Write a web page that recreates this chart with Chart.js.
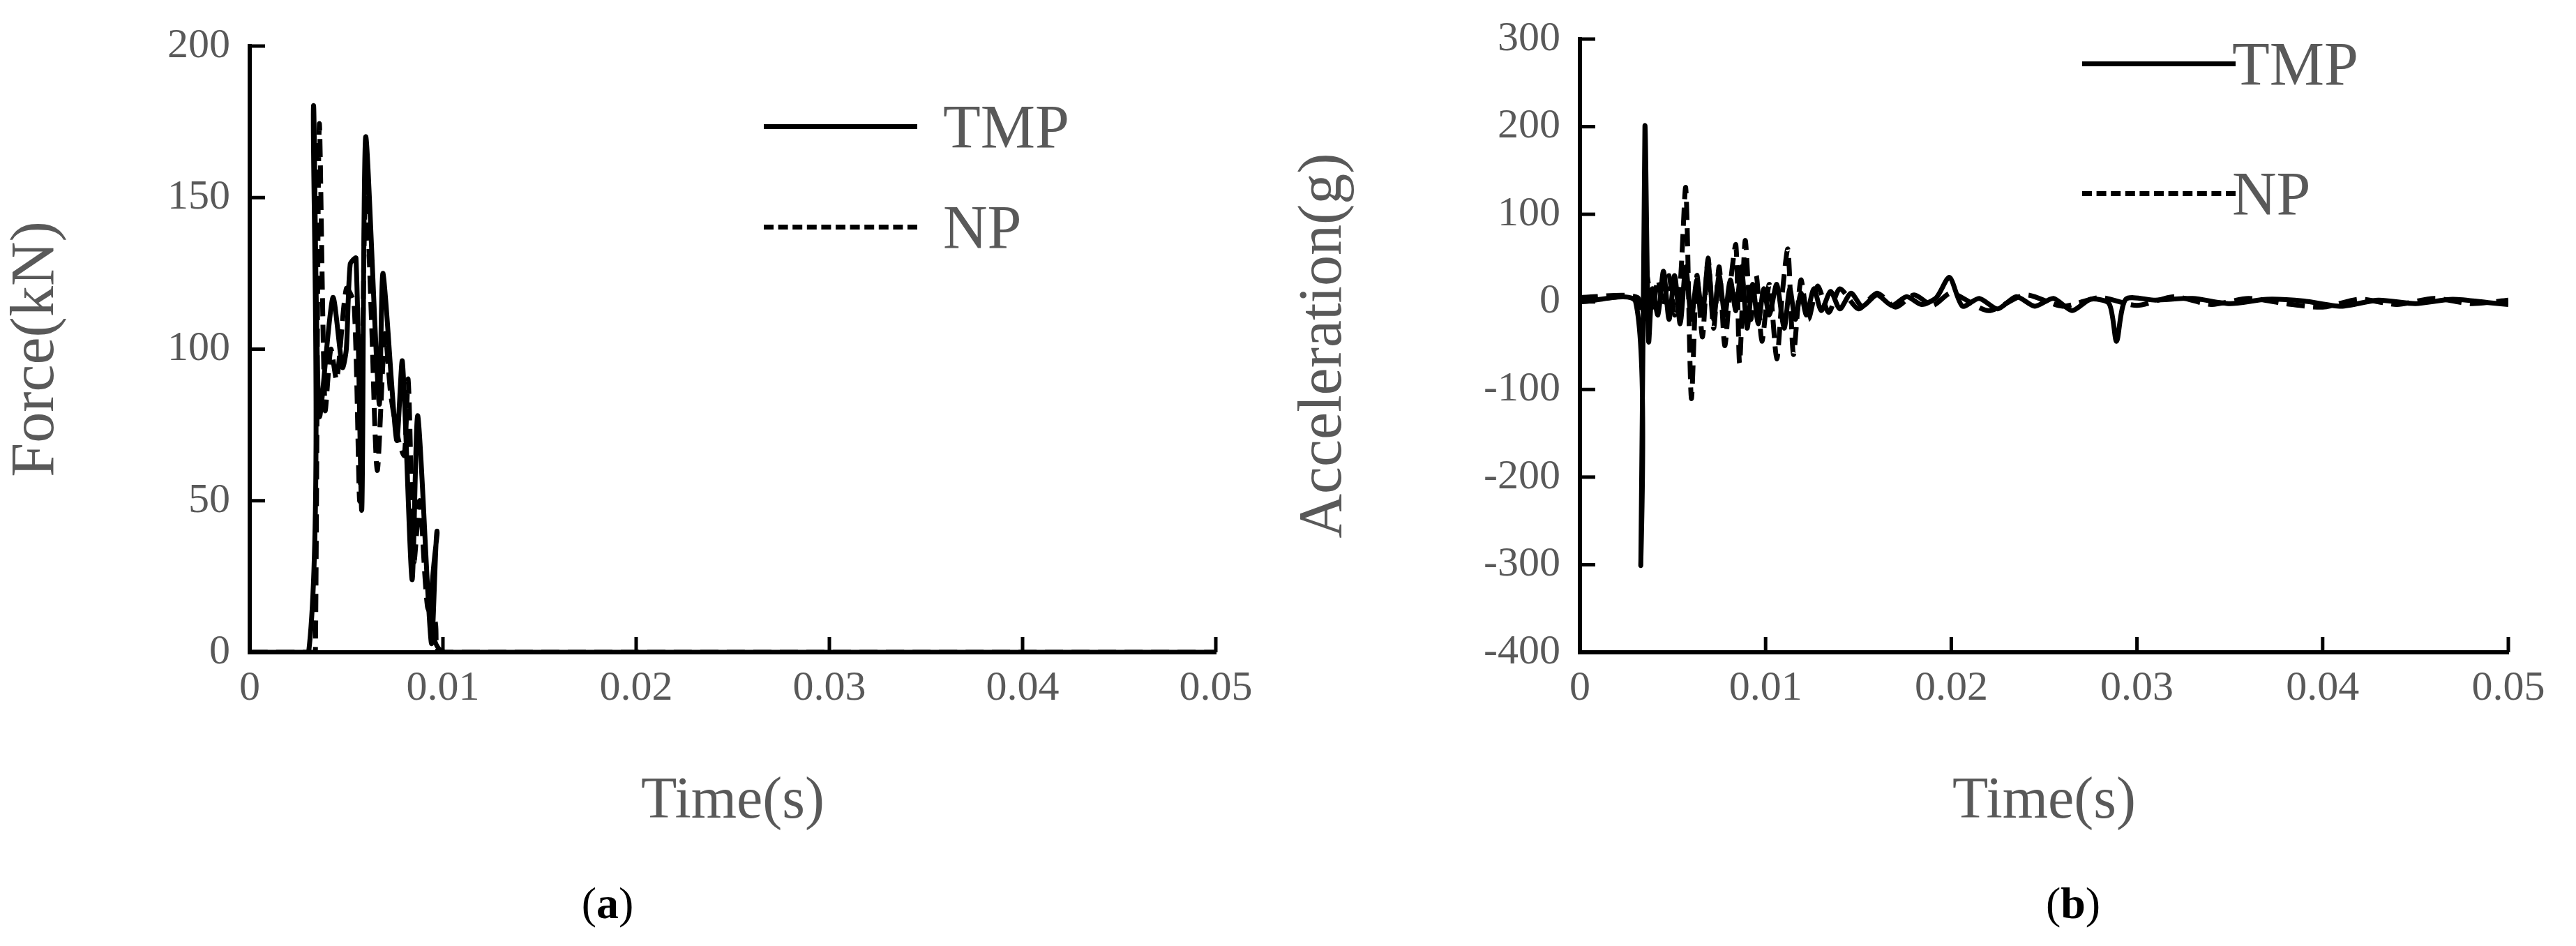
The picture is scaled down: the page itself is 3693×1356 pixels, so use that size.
<!DOCTYPE html>
<html>
<head>
<meta charset="utf-8">
<script src="https://cdn.jsdelivr.net/npm/chart.js@4.4.1/dist/chart.umd.min.js"></script>
<style>
  body { margin: 0; background: #fff; width: 3693px; height: 1356px; position: relative; overflow: hidden; font-family: "Liberation Serif", serif; }
  canvas { position: absolute; top: 0; }
  .leg { position: absolute; color: #595959; font-size: 88px; line-height: 88px; }
  .legline { position: absolute; width: 220px; border-top: 7px solid #000; }
  .dash { border-top-style: dashed; }
  .cap { position: absolute; top: 1258px; font-size: 64px; color: #000; transform: translateX(-50%); }
</style>
</head>
<body>
<canvas id="chartA" width="1846" height="1200" style="left:0"></canvas>
<canvas id="chartB" width="1847" height="1200" style="left:1846px"></canvas>

<div class="legline" style="left:1095px;top:178px"></div>
<div class="leg" style="left:1352px;top:138px">TMP</div>
<div class="legline dash" style="left:1095px;top:322px"></div>
<div class="leg" style="left:1352px;top:282px">NP</div>

<div class="legline" style="left:2985px;top:88px"></div>
<div class="leg" style="left:3200px;top:48px">TMP</div>
<div class="legline dash" style="left:2985px;top:274px"></div>
<div class="leg" style="left:3200px;top:234px">NP</div>

<div class="cap" style="left:871px">(<b>a</b>)</div>
<div class="cap" style="left:2972px">(<b>b</b>)</div>

<script>
// force (a)
const tmpForceTime = [0, 0.00305, 0.0033, 0.0036, 0.0043, 0.0048, 0.005, 0.0052, 0.0055, 0.0058, 0.006, 0.0067, 0.0069, 0.0076, 0.0079, 0.0084, 0.0087, 0.0094, 0.0097, 0.0101, 0.05];
const tmpForce = [0, 0, 180, 78, 117, 94, 100, 128, 130, 47, 170, 82, 125, 70, 96, 24, 78, 3, 40, 0, 0];
const npForceTime = [0, 0.0033, 0.0034, 0.0036, 0.0039, 0.0042, 0.0045, 0.005, 0.0054, 0.0057, 0.006, 0.0063, 0.0066, 0.007, 0.0073, 0.0077, 0.008, 0.0082, 0.0085, 0.0088, 0.0092, 0.0096, 0.0099, 0.05];
const npForce = [0, 0, 0, 174, 80, 100, 90, 120, 115, 50, 155, 110, 60, 105, 85, 70, 65, 90, 30, 50, 15, 10, 0, 0];

// acceleration (b)
const tmpAccTime = [0, 0.003, 0.00328, 0.0035, 0.0037, 0.0039, 0.0042, 0.0045, 0.0048, 0.0051, 0.0054, 0.0057, 0.006, 0.0063, 0.0066, 0.0069, 0.0072, 0.0075, 0.0078, 0.0081, 0.0084, 0.0087, 0.009, 0.0093, 0.0096, 0.0099, 0.0102, 0.0106, 0.011, 0.0113, 0.0116, 0.0119, 0.0122, 0.0126, 0.013, 0.0135, 0.014, 0.0146, 0.0152, 0.016, 0.0168, 0.0176, 0.0184, 0.0192, 0.0199, 0.0206, 0.0215, 0.0225, 0.0235, 0.0245, 0.0255, 0.0265, 0.0275, 0.0285, 0.0289, 0.0294, 0.031, 0.033, 0.035, 0.037, 0.039, 0.041, 0.043, 0.045, 0.047, 0.049, 0.05];
const tmpAcc = [0, 0, -300, 200, -45, 15, -15, 35, -20, 30, -25, 40, -20, 25, -15, 45, -20, 30, -15, 25, -10, 40, -30, 20, -25, 15, -15, 20, -30, 15, -20, 10, -15, 15, -10, 12, -8, 10, -5, 8, -4, 6, -3, 5, 28, -5, 4, -8, 6, -5, 4, -10, 3, -2, -45, 3, 2, 4, -2, 3, 1, -5, 2, -2, 3, -1, -3];
const npAccTime = [0, 0.0031, 0.0033, 0.0036, 0.0039, 0.0042, 0.0045, 0.0048, 0.0051, 0.0054, 0.0057, 0.006, 0.0063, 0.0066, 0.0069, 0.0072, 0.0075, 0.0078, 0.0081, 0.0084, 0.0086, 0.0089, 0.0092, 0.0095, 0.0098, 0.0102, 0.0106, 0.0109, 0.0112, 0.0115, 0.0119, 0.0123, 0.0128, 0.0134, 0.014, 0.015, 0.016, 0.017, 0.018, 0.019, 0.02, 0.022, 0.024, 0.026, 0.028, 0.03, 0.032, 0.034, 0.036, 0.038, 0.04, 0.042, 0.044, 0.046, 0.048, 0.05];
const npAcc = [5, 5, -30, 30, -10, 25, -5, 30, -15, 20, 130, -110, 30, -40, 50, -30, 40, -50, 20, 65, -70, 70, -20, 30, -45, 20, -65, 10, 60, -60, 25, -20, 18, -12, 15, -8, 10, -6, 8, -4, 10, -10, 8, -5, 5, -4, 6, -3, 4, -2, -6, 3, -3, 4, -2, 2];

const timeTicks = [0, 0.01, 0.02, 0.03, 0.04, 0.05];

const grey = '#595959';
const pts = (xs, ys) => xs.map((x, i) => ({ x: x, y: ys[i] }));

// draws the little tick marks pointing into the plot
const innerTicks = {
    id: 'innerTicks',
    afterDraw(chart) {
        const ctx = chart.ctx;
        const a = chart.chartArea;
        ctx.save();
        ctx.strokeStyle = '#000';
        ctx.lineWidth = 5;
        chart.scales.y.ticks.forEach(t => {
            const py = chart.scales.y.getPixelForValue(t.value);
            ctx.beginPath(); ctx.moveTo(a.left, py); ctx.lineTo(a.left + 22, py); ctx.stroke();
        });
        chart.scales.x.ticks.forEach(t => {
            const px = chart.scales.x.getPixelForValue(t.value);
            ctx.beginPath(); ctx.moveTo(px, a.bottom); ctx.lineTo(px, a.bottom - 22); ctx.stroke();
        });
        ctx.restore();
    }
};

function makeChart(id, sets, yMin, yMax, yStep, yTitle, leftW, padRight, padTop) {
    new Chart(document.getElementById(id), {
        type: 'line',
        data: {
            datasets: sets.map(s => ({
                data: s.data,
                borderColor: '#000',
                borderWidth: 7,
                borderDash: s.dash ? [26, 12] : [],
                pointRadius: 0,
                tension: 0.25,
                fill: false
            }))
        },
        options: {
            responsive: false,
            animation: false,
            devicePixelRatio: 1,
            layout: { padding: { top: padTop, right: padRight, left: 0, bottom: 0 } },
            plugins: { legend: { display: false }, tooltip: { enabled: false } },
            scales: {
                x: {
                    type: 'linear', min: 0, max: 0.05,
                    afterBuildTicks: s => { s.ticks = timeTicks.map(v => ({ value: v })); },
                    afterFit: s => { s.height = 265; },
                    grid: { display: false },
                    border: { color: '#000', width: 6 },
                    ticks: { color: grey, font: { family: 'Liberation Serif', size: 60 }, padding: 8, maxRotation: 0,
                             callback: v => String(v) },
                    title: { display: true, text: 'Time(s)', color: grey, font: { family: 'Liberation Serif', size: 84 }, padding: 0 }
                },
                y: {
                    min: yMin, max: yMax,
                    afterFit: s => { s.width = leftW; },
                    grid: { display: false },
                    border: { color: '#000', width: 6 },
                    ticks: { stepSize: yStep, color: grey, font: { family: 'Liberation Serif', size: 60 }, padding: 20 },
                    title: { display: true, text: yTitle, color: grey, font: { family: 'Liberation Serif', size: 88 }, padding: 0 }
                }
            }
        },
        plugins: [innerTicks]
    });
}

makeChart('chartA', [
    { data: pts(tmpForceTime, tmpForce), dash: false },
    { data: pts(npForceTime, npForce), dash: true }
], 0, 200, 50, 'Force(kN)', 358, 103, 66);

makeChart('chartB', [
    { data: pts(tmpAccTime, tmpAcc), dash: false },
    { data: pts(npAccTime, npAcc), dash: true }
], -400, 300, 100, 'Acceleration(g)', 419, 97, 42);
</script>
</body>
</html>
